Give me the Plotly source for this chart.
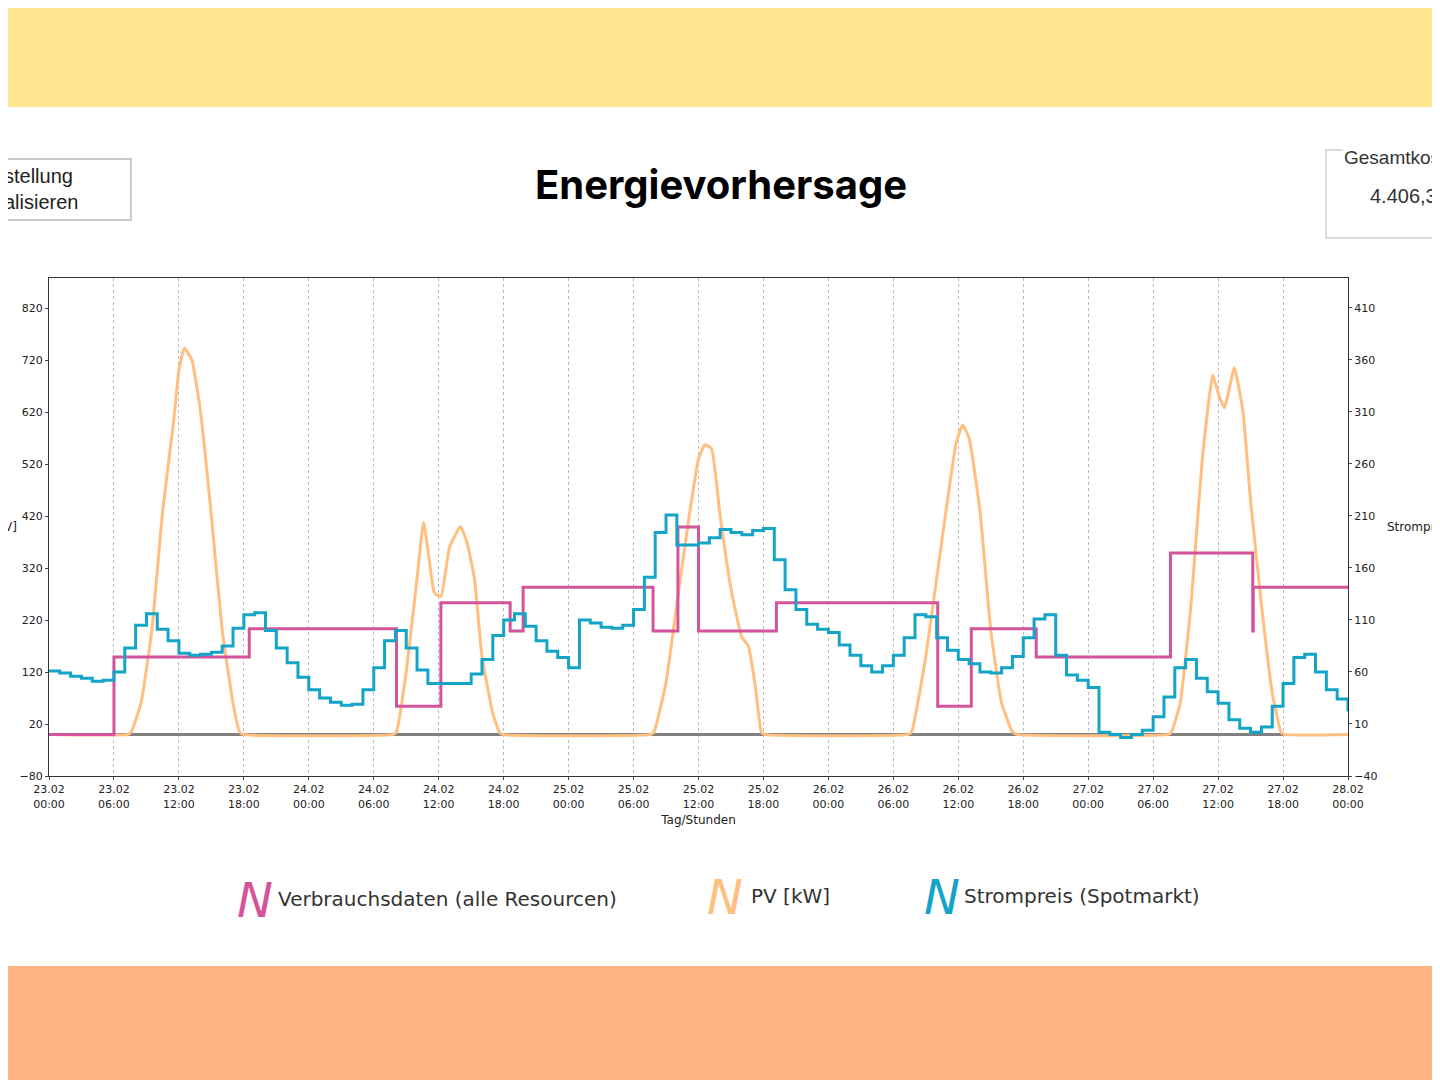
import plotly.graph_objects as go

# --- data ---
cons_hours = [0, 6, 18.5, 32.1, 36.2, 42.6, 43.8, 55.8, 58.1, 60.0, 67.2, 82.1, 85.2, 91.2, 103.6, 111.2, 111.25, 120]
cons_values = [0, 149, 203, 54, 253, 199, 283, 199, 399, 199, 253, 54, 203, 149, 349, 199, 283, 283]

pv_hours = [0, 7.3, 7.6, 8.5, 9.5, 10.5, 11.5, 12.0, 12.5, 13.2, 14, 15, 16, 17, 17.6, 17.9, 31.8, 32.1, 33, 34, 34.6, 35.1, 35.6, 36.2, 37, 38, 38.6, 39.3, 40, 41, 41.6, 41.9,
            55.6, 55.9, 57, 58, 59, 60, 60.6, 61.2, 62, 63, 64, 64.6, 65.2, 65.8, 66.1, 79.4, 79.7, 81, 82, 83, 83.8, 84.4, 85, 86, 87, 88, 89.0, 89.4,
            103.4, 103.7, 104.5, 105.5, 106.5, 107.5, 108.1, 108.6, 109.5, 110.3, 111, 112, 113, 113.8, 114.1, 120]
pv_values = [0, 0, 5, 60, 200, 430, 600, 700, 743, 720, 620, 420, 200, 60, 5, 0, 0, 5, 120, 300, 408, 340, 272, 265, 360, 400, 370, 300, 150, 40, 5, 0,
             0, 5, 100, 250, 400, 530, 557, 550, 420, 280, 187, 170, 100, 5, 0, 0, 5, 150, 300, 450, 560, 595, 570, 430, 200, 60, 5, 0,
             0, 5, 60, 250, 520, 691, 650, 628, 705, 620, 450, 250, 80, 5, 0, 0]

price_values = [61, 59, 56, 54, 51, 52, 60, 83, 105, 116, 101, 90, 78, 76, 77, 79, 85, 102, 115, 117,
                100, 83, 69, 55, 43, 35, 31, 28, 29, 43, 64, 90, 100, 83, 62, 49, 49, 49, 49, 58,
                72, 95, 110, 116, 104, 90, 80, 74, 64, 110, 107, 103, 102, 105, 120, 151, 194, 211, 182, 182,
                184, 189, 197, 194, 192, 196, 198, 168, 139, 120, 106, 101, 98, 86, 76, 66, 60, 66, 76, 93,
                115, 113, 93, 81, 72, 68, 60, 59, 64, 75, 93, 111, 115, 76, 57, 52, 45, 2, 0, -3,
                0, 4, 17, 36, 64, 72, 54, 41, 30, 14, 6, 2, 7, 27, 49, 74, 77, 60, 43, 34, 22]
price_hours = list(range(len(price_values)))

tick_hours = list(range(0, 121, 6))
tick_labels = ["23.02<br>00:00", "23.02<br>06:00", "23.02<br>12:00", "23.02<br>18:00",
               "24.02<br>00:00", "24.02<br>06:00", "24.02<br>12:00", "24.02<br>18:00",
               "25.02<br>00:00", "25.02<br>06:00", "25.02<br>12:00", "25.02<br>18:00",
               "26.02<br>00:00", "26.02<br>06:00", "26.02<br>12:00", "26.02<br>18:00",
               "27.02<br>00:00", "27.02<br>06:00", "27.02<br>12:00", "27.02<br>18:00", "28.02<br>00:00"]
left_ticks = list(range(-80, 821, 100))
right_ticks = list(range(-40, 411, 50))

MAG, ORA, BLU = "#d4549c", "#ffbf80", "#13a4c8"

fig = go.Figure()
fig.add_trace(go.Scatter(x=[0, 114], y=[0, 0], mode="lines", line=dict(color="#808080", width=3), showlegend=False))
fig.add_trace(go.Scatter(x=pv_hours, y=pv_values, mode="lines", line=dict(color=ORA, width=3, shape="spline", smoothing=0.4), showlegend=False))
fig.add_trace(go.Scatter(x=price_hours, y=price_values, mode="lines", yaxis="y2", line=dict(color=BLU, width=3, shape="hv"), showlegend=False))
fig.add_trace(go.Scatter(x=cons_hours, y=cons_values, mode="lines", line=dict(color=MAG, width=3, shape="hv"), showlegend=False))

tickfont = dict(family="DejaVu Sans", size=11, color="#222")
fig.update_layout(
    width=1440, height=1080, paper_bgcolor="white", plot_bgcolor="white",
    margin=dict(l=39, r=100, t=270, b=312),
    xaxis=dict(range=[0, 120], tickvals=tick_hours, ticktext=tick_labels, tickfont=tickfont,
               showgrid=True, gridcolor="#bbbbbb", griddash="dot", showline=True, linecolor="#333", mirror=True,
               ticks="outside", ticklen=3, zeroline=False,
               title=dict(text="Tag/Stunden", font=dict(family="DejaVu Sans", size=12, color="#222"), standoff=6)),
    yaxis=dict(range=[-80, 877.7], tickvals=left_ticks, tickfont=tickfont, showgrid=False, zeroline=False,
               showline=True, linecolor="#333", ticks="outside", ticklen=3),
    yaxis2=dict(range=[-40, 438.8], tickvals=right_ticks, tickfont=tickfont, overlaying="y", side="right",
                showgrid=False, zeroline=False, showline=True, linecolor="#333", ticks="outside", ticklen=3),
)

def px(p): return (p - 47) / 1301
def py(p): return (776 - p) / 498

shapes = [
    dict(type="rect", xref="paper", yref="paper", x0=px(-20), x1=px(1460), y0=py(107), y1=py(-20), fillcolor="#ffe492", line_width=0, layer="below"),
    dict(type="rect", xref="paper", yref="paper", x0=px(-20), x1=px(1460), y0=py(1100), y1=py(966), fillcolor="#ffb482", line_width=0, layer="below"),
    dict(type="rect", xref="paper", yref="paper", x0=px(-10), x1=px(129), y0=py(220), y1=py(159), fillcolor="white", line=dict(color="#c8c8c8", width=2)),
    dict(type="rect", xref="paper", yref="paper", x0=px(1326), x1=px(1460), y0=py(238), y1=py(150), fillcolor="white", line=dict(color="#d0d0d0", width=1.5)),
]
fig.update_layout(shapes=shapes)

NARROW = "Liberation Sans Narrow, Liberation Sans"
ann = [
    dict(x=px(720), y=py(185), text="<b>Energievorhersage</b>", font=dict(family="Inter", size=40, color="black")),
    dict(x=px(0), y=py(189), text="stellung<br>alisieren", xanchor="left", align="left", font=dict(family=NARROW, size=20, color="#222")),
    dict(x=px(1342), y=py(157), text="Gesamtkos", xanchor="left", bgcolor="white", font=dict(family=NARROW, size=19, color="#333")),
    dict(x=px(1368), y=py(196), text="4.406,3", xanchor="left", font=dict(family=NARROW, size=20, color="#333")),
    dict(x=px(0), y=py(527), text="V]", xanchor="left", font=dict(family="DejaVu Sans", size=12, color="#222")),
    dict(x=px(1385), y=py(527), text="Strompr", xanchor="left", font=dict(family="DejaVu Sans", size=12, color="#222")),
    dict(x=px(253), y=py(900), text="<i>N</i>", font=dict(family="DejaVu Sans", size=48, color=MAG)),
    dict(x=px(274), y=py(899), text="Verbrauchsdaten (alle Resourcen)", xanchor="left", font=dict(family="DejaVu Sans", size=20, color="#333")),
    dict(x=px(724), y=py(897), text="<i>N</i>", font=dict(family="DejaVu Sans", size=48, color=ORA)),
    dict(x=px(748), y=py(896), text="PV [kW]", xanchor="left", font=dict(family="DejaVu Sans", size=20, color="#333")),
    dict(x=px(941), y=py(897), text="<i>N</i>", font=dict(family="DejaVu Sans", size=48, color=BLU)),
    dict(x=px(961), y=py(896), text="Strompreis (Spotmarkt)", xanchor="left", font=dict(family="DejaVu Sans", size=20, color="#333")),
]
for a in ann:
    a.update(xref="paper", yref="paper", showarrow=False)
    a.setdefault("xanchor", "center")
    a["yanchor"] = "middle"
fig.update_layout(annotations=ann)

fig.write_html("out.html")
